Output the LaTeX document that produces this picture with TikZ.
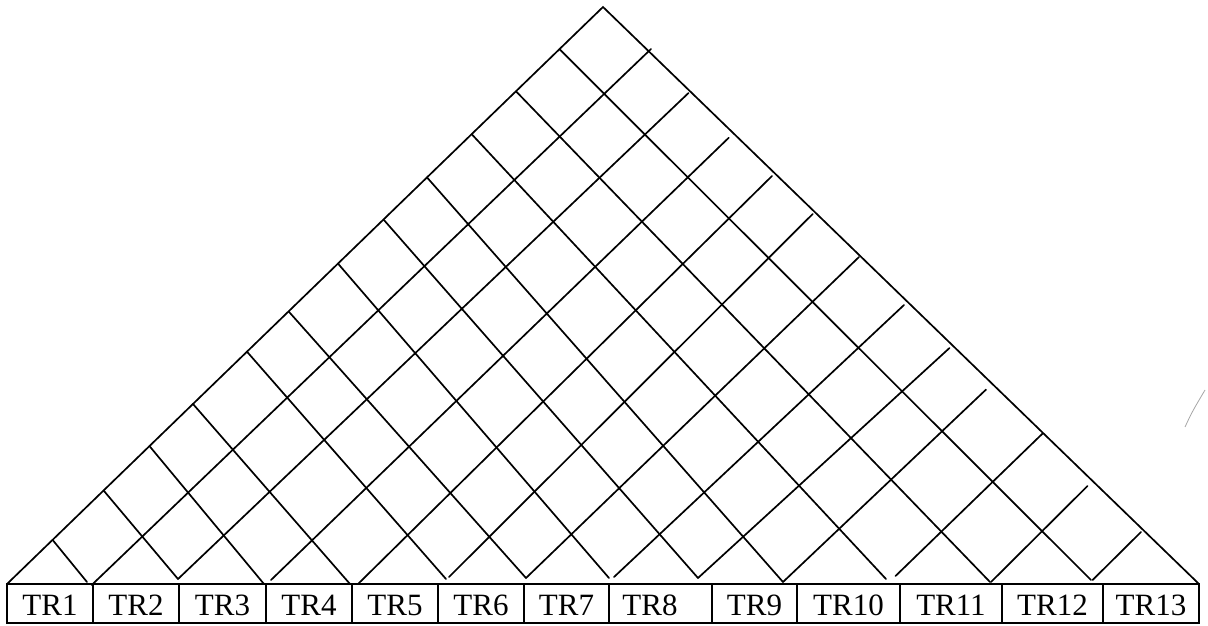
\documentclass[tikz,border=0pt]{standalone}
\usepackage{fontspec}
\setmainfont{Liberation Serif}
\begin{document}
\begin{tikzpicture}[x=1pt,y=-1pt,
  gridline/.style={line width=1.7pt, line cap=round},
  boxline/.style={line width=1.6pt},
  lab/.style={font=\fontsize{31}{31}\selectfont, anchor=base, inner sep=0pt}]
\useasboundingbox (0,0) rectangle (1208,626);
% outline of the pyramid
\coordinate (A) at (603,7);
\coordinate (CL) at (7,584);
\coordinate (CR) at (1199,584);
\draw[gridline] (CL) -- (A) -- (CR);
% lines parallel to the right side: from left edge down to the base
\foreach \i/\x/\y/\bx/\by in {
  1/52.6/539.9/87/582, 2/103.6/490.5/178/579, 3/149.5/446.1/264/584,
  4/193/404/350/584, 5/247/351.7/446/579, 6/288.6/311.4/526/578,
  7/338/263.6/609/578, 8/383.5/219.5/698/578, 9/427/177.4/783/582,
  10/471.7/134.2/886/579, 11/516/91.3/990/582, 12/559.5/49.2/1091/580} {
  \coordinate (L\i) at (\x,\y);
  \coordinate (B\i) at (\bx,\by);
  \draw[gridline] (L\i) -- (B\i);
}
% lines parallel to the left side: from the base up to the right edge
\foreach \i/\sx/\sy/\rx/\ry in {
  1/91.7/585/651/49, 2/178/579/688.5/93, 3/271/580/728.7/137.8,
  4/358/584/772/176, 5/449/577/812.7/214, 6/526/578/859/257,
  7/614/577/904/305, 8/698/578/949.5/348, 9/783/582/986/389.6,
  10/895.5/576/1042.5/433.6, 11/991/582/1087.5/486, 12/1092.6/580/1141/532} {
  \coordinate (S\i) at (\sx,\sy);
  \coordinate (R\i) at (\rx,\ry);
  \draw[gridline] (S\i) -- (R\i);
}
% row of boxes
\draw[boxline] (7,584) rectangle (1199,623);
\foreach \x in {93,179,266,352,438,524,609,712,797,900,1002,1103} {
  \draw[boxline] (\x,584) -- (\x,623);
}
\foreach \n/\cx in {1/50,2/136,3/222.5,4/309,5/395,6/481,7/566.5,8/650,9/754.5,10/848.5,11/951,12/1052.5,13/1151} {
  \node[lab] (TR\n) at (\cx,615) {TR\n};
}
% stray pencil mark
\coordinate (M1) at (1185,427);
\coordinate (M2) at (1205,390);
\draw[gray!70, line width=0.8pt] (M1) .. controls (1192,412) .. (M2);
\end{tikzpicture}
\end{document}
